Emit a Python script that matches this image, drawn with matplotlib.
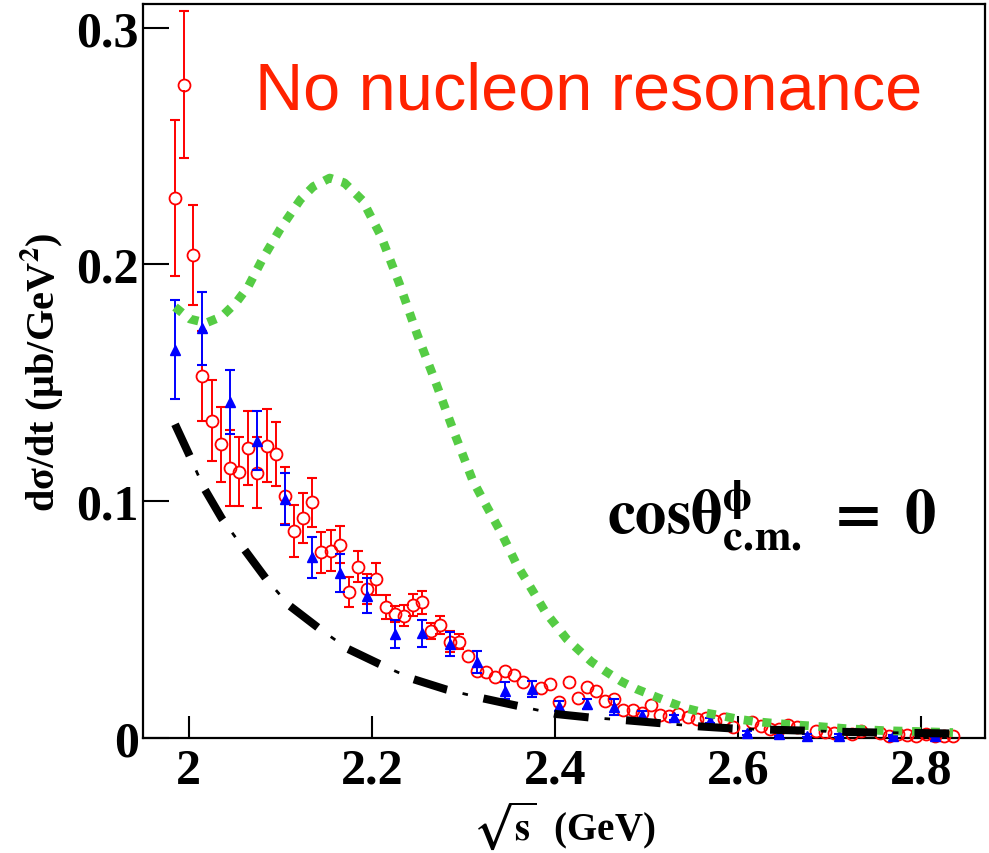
import matplotlib.pyplot as plt
import numpy as np

plt.rcParams['font.family'] = ['Liberation Serif', 'DejaVu Serif']
plt.rcParams['font.weight'] = 'bold'
plt.rcParams['mathtext.fontset'] = 'stix'
plt.rcParams['lines.scale_dashes'] = False

# data set 1 (red open circles)
red_x = [1.985, 1.995, 2.005, 2.015, 2.025, 2.035, 2.045, 2.055, 2.065, 2.075,
         2.085, 2.095, 2.105, 2.115, 2.125, 2.135, 2.145, 2.155, 2.165, 2.175,
         2.185, 2.195, 2.205, 2.215, 2.225, 2.235, 2.245, 2.255, 2.265, 2.275,
         2.285, 2.295, 2.305, 2.315, 2.325, 2.335, 2.345, 2.355, 2.365,
         2.385, 2.395, 2.405, 2.415, 2.425, 2.435, 2.445, 2.455, 2.465, 2.475,
         2.485, 2.495, 2.505, 2.515, 2.525, 2.535, 2.545, 2.555, 2.565, 2.575,
         2.585, 2.595, 2.615, 2.625, 2.635, 2.645, 2.655, 2.665, 2.685, 2.695,
         2.705, 2.725, 2.735, 2.755, 2.765, 2.775, 2.785, 2.795, 2.805, 2.815,
         2.825, 2.835]
red_y = [0.228, 0.276, 0.204, 0.153, 0.134, 0.124, 0.114, 0.1125, 0.1225, 0.112,
         0.1235, 0.120, 0.1024, 0.0876, 0.0928, 0.0996, 0.0784, 0.0791, 0.0817, 0.0616,
         0.0724, 0.063, 0.0672, 0.0552, 0.0524, 0.0517, 0.0562, 0.0573, 0.0453, 0.0477,
         0.0407, 0.0407, 0.0345, 0.0284, 0.028, 0.0256, 0.0284, 0.0267, 0.0236,
         0.021, 0.0228, 0.0153, 0.0238, 0.0167, 0.0217, 0.020, 0.0158, 0.0165, 0.0118,
         0.0118, 0.0106, 0.0139, 0.0097, 0.0092, 0.0101, 0.009, 0.008, 0.0083, 0.0073,
         0.008, 0.0045, 0.0066, 0.005, 0.0038, 0.004, 0.0055, 0.0045, 0.003, 0.0025,
         0.002, 0.0015, 0.003, 0.002, 0.001, 0.0015, 0.0012, 0.001, 0.0015, 0.001,
         0.001, 0.0008]
red_err = [0.033, 0.031, 0.021, 0.019, 0.017, 0.016, 0.016, 0.0145, 0.0155, 0.015,
           0.0155, 0.0135, 0.0122, 0.011, 0.0105, 0.0103, 0.0087, 0.0087, 0.0078, 0.0063,
           0.0065, 0.0063, 0.0067, 0.005, 0.0034, 0.0043, 0.0047, 0.0048, 0.0034, 0.0039,
           0.0045, 0.0032, 0.0025, 0.002, 0.002, 0.0018, 0.0018, 0.0017, 0.0015,
           0.0015, 0.0015, 0.0014, 0.0014, 0.0014, 0.0013, 0.0013, 0.0013, 0.0012, 0.0012,
           0.0012, 0.0011, 0.0011, 0.0011, 0.001, 0.001, 0.001, 0.001, 0.0009, 0.0009,
           0.0009, 0.0008, 0.0008, 0.0008, 0.0007, 0.0007, 0.0007, 0.0007, 0.0006, 0.0006,
           0.0006, 0.0006, 0.0005, 0.0005, 0.0005, 0.0005, 0.0005, 0.0005, 0.0005, 0.0005,
           0.0005, 0.0005]

# data set 2 (blue triangles)
blue_x = [1.985, 2.015, 2.045, 2.075, 2.105, 2.135, 2.165, 2.195, 2.225, 2.255,
          2.285, 2.315, 2.345, 2.375, 2.405, 2.435, 2.465, 2.495, 2.53, 2.57,
          2.61, 2.645, 2.675, 2.71, 2.77, 2.815]
blue_y = [0.164, 0.173, 0.142, 0.1256, 0.101, 0.0763, 0.0697, 0.0601, 0.0439, 0.0442,
          0.0397, 0.032, 0.020, 0.0207, 0.0136, 0.0144, 0.013, 0.0097, 0.0087, 0.0073,
          0.002, 0.0017, 0.001, 0.001, 0.0008, 0.0008]
blue_err = [0.021, 0.0155, 0.0135, 0.0125, 0.011, 0.0086, 0.0079, 0.0073, 0.0059, 0.0056,
            0.005, 0.0046, 0.0037, 0.0033, 0.002, 0.002, 0.0033, 0.0015, 0.0012, 0.001,
            0.0008, 0.0008, 0.0006, 0.0006, 0.0005, 0.0005]

# model with resonance (green dotted)
green_x = [1.985, 2.001, 2.019, 2.036, 2.052, 2.065, 2.081, 2.1, 2.122, 2.136,
           2.154, 2.17, 2.19, 2.21, 2.23, 2.25, 2.27, 2.29, 2.31, 2.323,
           2.342, 2.358, 2.369, 2.39, 2.413, 2.44, 2.456, 2.473, 2.489, 2.507,
           2.526, 2.544, 2.562, 2.582, 2.6, 2.62, 2.64, 2.66, 2.68, 2.7,
           2.72, 2.74, 2.76, 2.78, 2.8, 2.835]
green_y = [0.182, 0.177, 0.1753, 0.178, 0.184, 0.1907, 0.2026, 0.215, 0.2274, 0.2329,
           0.2365, 0.2345, 0.227, 0.212, 0.192, 0.170, 0.150, 0.129, 0.109, 0.0996,
           0.0862, 0.0735, 0.0665, 0.053, 0.0418, 0.0322, 0.028, 0.0238, 0.0207, 0.0179,
           0.015, 0.0125, 0.0108, 0.0094, 0.008, 0.0069, 0.0062, 0.0056, 0.0051, 0.0045,
           0.0039, 0.0035, 0.0031, 0.0029, 0.0027, 0.0023]

# model without resonance (black dash-dot)
black_x = [1.985, 2.0, 2.016, 2.036, 2.06, 2.085, 2.11, 2.141, 2.174, 2.208,
           2.245, 2.282, 2.322, 2.359, 2.402, 2.437, 2.478, 2.517, 2.558, 2.595,
           2.636, 2.674, 2.715, 2.753, 2.795, 2.835]
black_y = [0.1325, 0.1200, 0.1060, 0.0928, 0.0800, 0.0670, 0.0559, 0.0467, 0.0376, 0.0313,
           0.0249, 0.0204, 0.0167, 0.0136, 0.0101, 0.0087, 0.0075, 0.0062, 0.0049, 0.0040,
           0.0035, 0.0031, 0.0026, 0.0023, 0.0021, 0.0019]

xticks = [2, 2.2, 2.4, 2.6, 2.8]
xticklabels = ['2', '2.2', '2.4', '2.6', '2.8']
yticks = [0, 0.1, 0.2, 0.3]
yticklabels = ['0', '0.1', '0.2', '0.3']

fig = plt.figure(figsize=(9.89, 8.54), dpi=100)
ax = fig.add_axes([143 / 989, 115 / 854, 842 / 989, 734 / 854])
ax.set_xlim(1.95, 2.87)
ax.set_ylim(0, 0.31)

red_ms = 8.6
# ROOT style: error bar stops at the edge of the open circle
ax_h = ax.get_window_extent().height
gap = (red_ms / 2 * fig.dpi / 72) * (0.31 / ax_h)
rx, ry, re = np.array(red_x), np.array(red_y), np.array(red_err)
m = re > gap
ax.vlines(rx[m], ry[m] + gap, ry[m] + re[m], color='red', lw=1.4, zorder=3)
ax.vlines(rx[m], ry[m] - re[m], ry[m] - gap, color='red', lw=1.4, zorder=3)
ax.plot(rx[m], ry[m] + re[m], ls='none', marker='_', ms=6.6, mew=1.5, color='red', zorder=3)
ax.plot(rx[m], ry[m] - re[m], ls='none', marker='_', ms=6.6, mew=1.5, color='red', zorder=3)
ax.plot(rx, ry, ls='none', marker='o', ms=red_ms, mfc='none', mec='red', mew=1.3,
        zorder=3, clip_on=False)

ax.errorbar(blue_x, blue_y, yerr=blue_err, fmt='^', color='blue', ms=7.6,
            elinewidth=1.4, capsize=3.3, capthick=1.5, zorder=4, clip_on=False)

ax.plot(green_x, green_y, color='#55cc44', lw=6.3, ls=(0, (6.5, 7)),
        dash_capstyle='butt', zorder=5)

ax.plot(black_x, black_y, color='black', lw=5.8, ls=(0, (25, 27)),
        dash_capstyle='butt', zorder=6)
ax.plot(black_x, black_y, color='black', lw=2, ls=(15.5, (4, 48)),
        dash_capstyle='butt', zorder=6)

ax.set_xticks(xticks)
ax.set_xticklabels(xticklabels)
ax.set_yticks(yticks)
ax.set_yticklabels(yticklabels)
ax.tick_params(axis='x', direction='in', length=16, width=1.5, labelsize=36, pad=7)
ax.tick_params(axis='y', direction='in', length=19, width=1.5, labelsize=36, pad=3)
for s in ax.spines.values():
    s.set_linewidth(1.6)

ax.set_ylabel('dσ/dt (μb/GeV$^{\\mathbf{2}}$)', fontsize=29, fontweight='bold')
ax.yaxis.set_label_coords(-0.0915, 0.5)
ax.set_xlabel(r'$\mathbf{\sqrt{s}}$  (GeV)', fontsize=28, fontweight='bold')
ax.xaxis.set_label_coords(0.5, -0.082)

ax.text(0.133, 0.857, 'No nucleon resonance', transform=ax.transAxes, fontsize=48,
        color='#ff2200', family='Liberation Sans', fontweight='normal', va='baseline')
ax.text(0.551, 0.2807,
        r'$\mathbf{cos\theta}^{\mathrm{\phi}}_{\mathbf{c.\!m.}}\;\mathbf{=}\;\mathbf{0}$',
        transform=ax.transAxes, fontsize=45, va='baseline')

fig.savefig('out.png', dpi=100)
